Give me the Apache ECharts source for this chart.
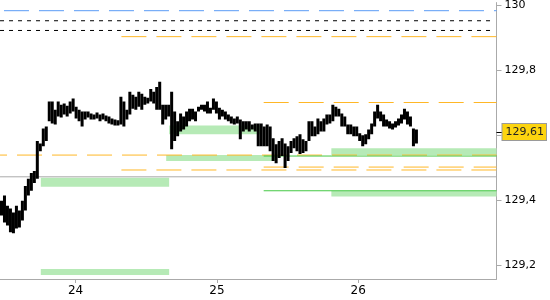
<!DOCTYPE html>
<html>
<head>
<meta charset="utf-8">
<script src="https://cdn.jsdelivr.net/npm/echarts@6/dist/echarts.min.js"></script>
<style>
html,body{margin:0;padding:0;background:#fff;}
#chart{width:550px;height:300px;}
</style>
</head>
<body>
<div id="chart"></div>
<script>
// ---- data ----
const dayTicks = [24, 25, 26];
const priceTicks = [129.2, 129.4, 129.6, 129.8, 130];
const priceLabels = [129.2, 129.4, 129.8, 130];
const lastPrice = 129.61;
const firstBarDay = 23.4754;
const barStepDays = 0.021127;
const barHighs = [
129.398,129.414,129.383,129.374,129.362,129.383,129.368,129.398,129.444,129.466,
129.484,129.490,129.582,129.575,129.621,129.627,129.704,129.704,129.679,129.704,
129.694,129.698,129.691,129.704,129.713,129.688,129.679,129.673,129.673,129.673,
129.667,129.664,129.670,129.664,129.667,129.661,129.658,129.652,129.649,129.646,
129.719,129.704,129.679,129.734,129.725,129.719,129.734,129.728,129.719,129.716,
129.743,129.734,129.749,129.765,129.694,129.694,129.694,129.734,129.673,129.643,
129.667,129.658,129.673,129.682,129.682,129.673,129.688,129.694,129.694,129.704,
129.685,129.713,129.704,129.685,129.679,129.673,129.664,129.658,129.652,129.658,
129.649,129.643,129.643,129.643,129.633,129.636,129.636,129.636,129.627,129.633,
129.627,129.591,129.572,129.582,129.591,129.575,129.566,129.582,129.591,129.597,
129.603,129.588,129.582,129.643,129.643,129.627,129.652,129.643,129.652,129.664,
129.664,129.694,129.688,129.682,129.667,129.658,129.633,129.633,129.627,129.627,
129.606,129.600,129.603,129.618,129.636,129.673,129.694,129.673,129.664,129.649,
129.643,129.636,129.643,129.652,129.664,129.682,129.673,129.658,129.621,129.618
];
const barLows = [
129.353,129.331,129.322,129.301,129.298,129.313,129.316,129.337,129.368,129.414,
129.429,129.453,129.466,129.551,129.566,129.582,129.643,129.636,129.633,129.658,
129.655,129.664,129.658,129.667,129.673,129.652,129.643,129.627,129.649,129.655,
129.649,129.649,129.652,129.643,129.649,129.643,129.636,129.633,129.630,129.630,
129.633,129.627,129.649,129.664,129.682,129.679,129.688,129.679,129.694,129.698,
129.704,129.698,129.679,129.679,129.633,129.649,129.658,129.557,129.582,129.597,
129.612,129.618,129.627,129.643,129.649,129.643,129.673,129.679,129.673,129.667,
129.667,129.679,129.667,129.649,129.658,129.649,129.643,129.636,129.633,129.636,
129.588,129.612,129.618,129.612,129.618,129.612,129.566,129.566,129.566,129.566,
129.551,129.521,129.514,129.530,129.536,129.499,129.521,129.545,129.560,129.551,
129.542,129.545,129.551,129.582,129.597,129.597,129.603,129.612,129.612,129.633,
129.636,129.643,129.658,129.658,129.627,129.627,129.603,129.603,129.597,129.597,
129.582,129.566,129.572,129.588,129.603,129.627,129.652,129.643,129.627,129.627,
129.621,129.618,129.624,129.630,129.636,129.649,129.633,129.627,129.566,129.575
];
// levels: [fromDay, toDay, price]
const blueDashed = [[23.493, 26.979, 129.984]];
const blackDashed = [[23.465, 26.951, 129.953], [23.465, 26.951, 129.923]];
const orangeDashed = [[24.324, 26.979, 129.904], [25.331, 26.979, 129.701], [25.331, 26.979, 129.502], [24.324, 26.979, 129.493]];
const orangeDashedFromEdge = [[23.465, 26.979, 129.539]];
const greyLines = [[23.465, 26.979, 129.472]];
const greenLines = [[25.331, 26.979, 129.536], [25.331, 26.979, 129.429]];
// zones: [fromDay, toDay, lowPrice, highPrice]
const greenZones = [
  [23.7535, 24.662, 129.441, 129.469],
  [23.7535, 24.662, 129.169, 129.188],
  [24.641, 25.4155, 129.521, 129.539],
  [24.662, 25.310, 129.603, 129.630],
  [25.810, 26.979, 129.539, 129.560],
  [25.810, 26.979, 129.411, 129.429]
];

// ---- chart ----
const FONT = 'DejaVu Sans';
const chart = echarts.init(document.getElementById('chart'), null, {renderer: 'canvas'});
const comma = v => String(v).replace('.', ',');

function levelSeries(list, style) {
  return list.map(l => ({
    type: 'line', silent: true, symbol: 'none', animation: false,
    data: [[l[0], l[2]], [l[1], l[2]]],
    lineStyle: style, z: 3
  }));
}

const bars = barHighs.map((h, i) => [firstBarDay + i * barStepDays, h, barLows[i]]);

const option = {
  animation: false,
  backgroundColor: '#fff',
  grid: {left: 0, right: 51, top: 0, bottom: 21, containLabel: false},
  xAxis: {
    type: 'value', min: 23.4648, max: 26.9789,
    splitLine: {show: false},
    axisLine: {show: true, lineStyle: {color: '#aaaaaa', width: 1}},
    axisTick: {show: true, customValues: dayTicks, length: 4, lineStyle: {color: '#aaaaaa'}},
    axisLabel: {customValues: dayTicks, formatter: v => String(v), color: '#000', fontFamily: FONT, fontSize: 12, margin: 6}
  },
  yAxis: [{
    type: 'value', position: 'right', min: 129.157, max: 130.009, offset: 0,
    splitLine: {show: false},
    axisLine: {show: true, lineStyle: {color: '#aaaaaa', width: 1}},
    axisTick: {show: true, customValues: priceTicks, length: 5, lineStyle: {color: '#aaaaaa'}},
    axisLabel: {customValues: priceLabels, formatter: comma, color: '#000', fontFamily: FONT, fontSize: 11, margin: 8}
  }, {
    type: 'value', position: 'right', min: 129.157, max: 130.009, offset: 0,
    splitLine: {show: false},
    axisLine: {show: false},
    axisTick: {show: true, customValues: [lastPrice], length: 6, lineStyle: {color: '#000'}},
    axisLabel: {
      customValues: [lastPrice], formatter: comma, color: '#222', fontFamily: FONT, fontSize: 11, margin: 6,
      backgroundColor: '#fcd40f', borderColor: '#9a9a9a', borderWidth: 1, padding: [3, 2, 2, 3]
    }
  }],
  series: [
    {
      type: 'custom', silent: true, z: 1, clip: true,
      data: greenZones,
      encode: {x: [0, 1], y: [2, 3]},
      renderItem: (params, api) => {
        const a = api.coord([api.value(0), api.value(3)]);
        const b = api.coord([api.value(1), api.value(2)]);
        return {type: 'rect', shape: {x: a[0], y: a[1], width: b[0] - a[0], height: b[1] - a[1]}, style: {fill: '#b6eab6'}};
      }
    },
    ...levelSeries(blueDashed, {color: '#5b9cf6', width: 1, type: [25, 10]}),
    ...levelSeries(blackDashed, {color: '#000', width: 1, type: [4, 5]}),
    ...levelSeries(orangeDashed, {color: '#ffb726', width: 1, type: [25, 10]}),
    ...levelSeries(orangeDashedFromEdge, {color: '#ffb726', width: 1, type: [25, 10], dashOffset: 18}),
    ...levelSeries(greyLines, {color: '#aaaaaa', width: 1}),
    ...levelSeries(greenLines, {color: '#44c844', width: 1}),
    {
      type: 'custom', silent: true, z: 5, clip: true,
      data: bars,
      encode: {x: 0, y: [1, 2]},
      renderItem: (params, api) => {
        const t = api.value(0);
        const p1 = api.coord([t, api.value(1)]);
        const p2 = api.coord([t, api.value(2)]);
        return {type: 'rect', shape: {x: p1[0] - 1.5, y: p1[1], width: 3, height: Math.max(1, p2[1] - p1[1])}, style: {fill: '#000'}};
      }
    }
  ]
};
chart.setOption(option);
</script>
</body>
</html>
